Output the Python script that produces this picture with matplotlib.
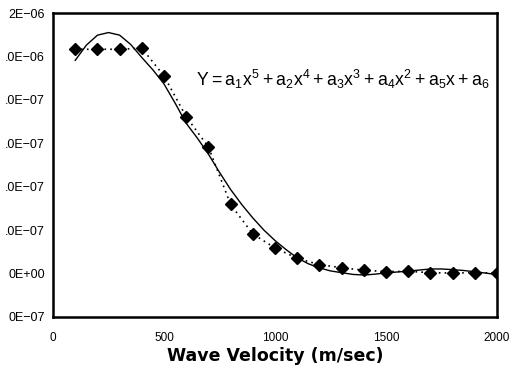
import matplotlib
matplotlib.use("Agg")
import matplotlib.pyplot as plt

plt.rcParams['font.family'] = ['Liberation Sans', 'DejaVu Sans']
plt.rcParams['mathtext.fontset'] = 'custom'
plt.rcParams['mathtext.rm'] = 'Liberation Sans'

# measured data (diamonds)
velocity = [100, 200, 300, 400, 500, 600, 700, 800, 900, 1000,
            1100, 1200, 1300, 1400, 1500, 1600, 1700, 1800, 1900, 2000]
measured = [1.033e-6, 1.033e-6, 1.033e-6, 1.038e-6, 0.910e-6, 0.722e-6, 0.583e-6,
            0.318e-6, 0.182e-6, 0.118e-6, 0.070e-6, 0.041e-6, 0.027e-6, 0.015e-6,
            0.009e-6, 0.010e-6, 0.004e-6, 0.002e-6, 0.004e-6, 0.002e-6]

# fitted 5th-order polynomial curve (solid line)
fit_x = [100, 150, 200, 250, 300, 350, 400, 450, 500, 550, 600, 650, 700,
         750, 800, 850, 900, 950, 1000, 1050, 1100, 1150, 1200, 1250, 1300,
         1350, 1400, 1450, 1500, 1550, 1600, 1650, 1700, 1750, 1800, 1850,
         1900, 1950, 2000]
fit_y = [0.982e-6, 1.052e-6, 1.098e-6, 1.110e-6, 1.098e-6, 1.055e-6, 0.995e-6,
         0.938e-6, 0.873e-6, 0.785e-6, 0.692e-6, 0.624e-6, 0.550e-6,
         0.466e-6, 0.387e-6, 0.318e-6, 0.256e-6, 0.200e-6, 0.152e-6, 0.110e-6,
         0.072e-6, 0.045e-6, 0.026e-6, 0.012e-6, 0.004e-6,
         -0.004e-6, -0.007e-6, -0.003e-6, 0.003e-6, 0.007e-6, 0.011e-6,
         0.016e-6, 0.021e-6, 0.021e-6, 0.018e-6, 0.014e-6,
         0.008e-6, 0.002e-6, -0.005e-6]

x_ticks = [0, 500, 1000, 1500, 2000]
x_tick_labels = ['0', '500', '1000', '1500', '2000']
y_ticks = [1.2e-6, 1.0e-6, 0.8e-6, 0.6e-6, 0.4e-6, 0.2e-6, 0.0, -0.2e-6]
y_tick_labels = ['2E\u221206', '.0E\u221206', '.0E\u221207', '.0E\u221207',
                 '.0E\u221207', '.0E\u221207', '0E+00', '0E\u221207']

fig = plt.figure(figsize=(5.15, 3.72), dpi=100)
ax = fig.add_axes([0.103, 0.148, 0.862, 0.817])

ax.plot(fit_x, fit_y, color='black', lw=1.0, solid_joinstyle='round')
ax.plot(velocity, measured, color='black', lw=1.2, linestyle=(0, (1, 2.5)),
        marker='D', markersize=5.8, markerfacecolor='black', markeredgecolor='black')

ax.set_xlim(0, 2000)
ax.set_ylim(-0.2e-6, 1.2e-6)
ax.set_xticks(x_ticks)
ax.set_xticklabels(x_tick_labels, fontsize=8.5)
ax.set_yticks(y_ticks)
ax.set_yticklabels(y_tick_labels, fontsize=9)
ax.tick_params(axis='both', length=0)
ax.tick_params(axis='x', pad=11)
ax.tick_params(axis='y', pad=6)

for s in ax.spines.values():
    s.set_linewidth(1.8)
    s.set_color('black')

ax.set_xlabel('Wave Velocity (m/sec)', fontsize=12.5, fontweight='bold',
              family='DejaVu Sans', labelpad=2)

ax.text(0.322, 0.78, r'$\mathregular{Y = a_1x^5 + a_2x^4 + a_3x^3 + a_4x^2 + a_5x + a_6}$',
        transform=ax.transAxes, fontsize=12.7, ha='left', va='center')

fig.savefig('out.png', dpi=100)
